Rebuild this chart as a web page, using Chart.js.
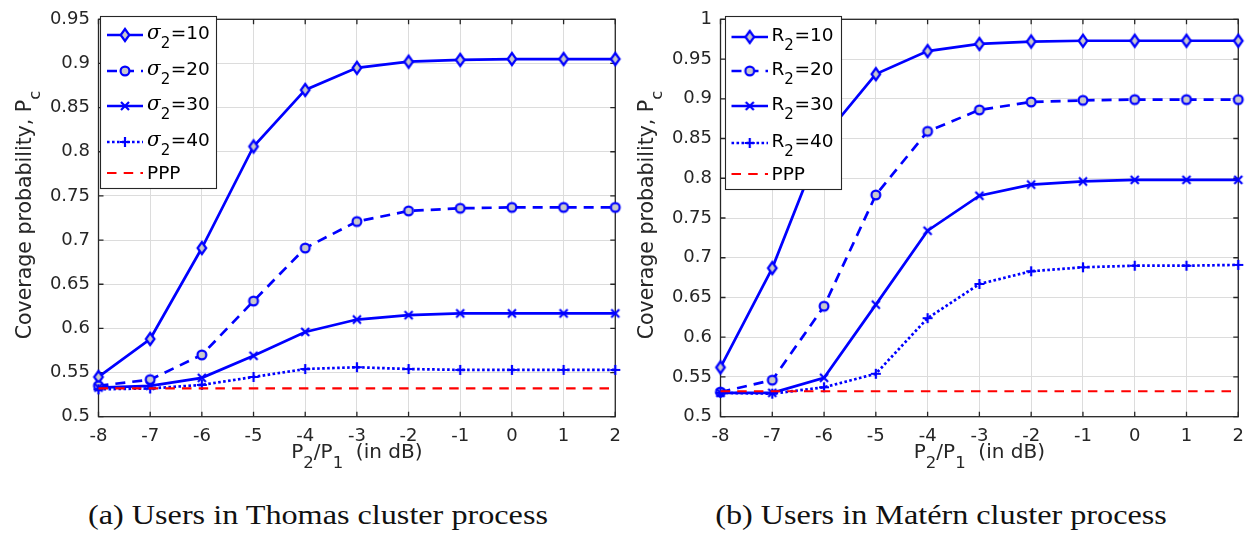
<!DOCTYPE html>
<html>
<head>
<meta charset="utf-8">
<script src="https://cdn.jsdelivr.net/npm/chart.js@4.4.1/dist/chart.umd.min.js"></script>
<style>
  html, body { margin: 0; padding: 0; background: #fff; }
  #wrap { position: relative; width: 1253px; height: 533px; overflow: hidden; }
  canvas { position: absolute; top: 0; }
  #thomas { left: 0; }
  #matern { left: 630px; }
  .cap { position: absolute; top: 499px; font-family: 'Liberation Serif', serif; font-size: 28px;
         color: #111; white-space: nowrap; transform: translateX(-50%) scaleX(1.15); }
</style>
</head>
<body>
<div id="wrap">
  <canvas id="thomas" width="630" height="470"></canvas>
  <canvas id="matern" width="623" height="470"></canvas>
  <div class="cap" style="left:318px">(a) Users in Thomas cluster process</div>
  <div class="cap" style="left:941px">(b) Users in Matérn cluster process</div>
</div>
<script>
// Power ratio P2/P1 in dB (shared x axis)
const powerRatioDb = [-8, -7, -6, -5, -4, -3, -2, -1, 0, 1, 2];

// Coverage probability, users in a Thomas cluster process
const thomasSigma10 = [0.545, 0.588, 0.691, 0.806, 0.870, 0.895, 0.902, 0.904, 0.905, 0.905, 0.905];
const thomasSigma20 = [0.535, 0.542, 0.570, 0.631, 0.691, 0.721, 0.733, 0.736, 0.737, 0.737, 0.737];
const thomasSigma30 = [0.533, 0.535, 0.544, 0.569, 0.596, 0.610, 0.615, 0.617, 0.617, 0.617, 0.617];
const thomasSigma40 = [0.531, 0.532, 0.536, 0.545, 0.554, 0.556, 0.554, 0.553, 0.553, 0.553, 0.553];
const thomasPPP = 0.532;

// Coverage probability, users in a Matérn cluster process
const maternR10 = [0.562, 0.687, 0.852, 0.931, 0.960, 0.969, 0.972, 0.973, 0.973, 0.973, 0.973];
const maternR20 = [0.531, 0.546, 0.639, 0.779, 0.859, 0.886, 0.896, 0.898, 0.899, 0.899, 0.899];
const maternR30 = [0.530, 0.530, 0.549, 0.641, 0.734, 0.778, 0.792, 0.796, 0.798, 0.798, 0.798];
const maternR40 = [0.530, 0.529, 0.537, 0.554, 0.624, 0.667, 0.683, 0.688, 0.690, 0.690, 0.691];
const maternPPP = 0.532;

// Legend parameter values
const sigmaValues = [10, 20, 30, 40];
const radiusValues = [10, 20, 30, 40];

// Y tick labels
const thomasYTicks = [0.5, 0.55, 0.6, 0.65, 0.7, 0.75, 0.8, 0.85, 0.9, 0.95];
const maternYTicks = [0.5, 0.55, 0.6, 0.65, 0.7, 0.75, 0.8, 0.85, 0.9, 0.95, 1];

const BLUE = '#0000ff';
const RED = '#ff0000';
const INK = '#262626';
const GRID = '#dcdcdc';
const MARK_FILL = '#c8c8cc';
const SANS = "'DejaVu Sans', sans-serif";

// Marker glyphs as small canvases (used both on the plot and in the legend)
function markerCanvas(kind) {
  const s = 18, m = s / 2;
  const c = document.createElement('canvas');
  c.width = c.height = s;
  const g = c.getContext('2d');
  g.strokeStyle = BLUE; g.fillStyle = MARK_FILL; g.lineWidth = 2.2;
  g.beginPath();
  if (kind === 'diamond') {
    g.moveTo(m, m - 6); g.lineTo(m + 4.3, m); g.lineTo(m, m + 6); g.lineTo(m - 4.3, m); g.closePath();
    g.fill(); g.stroke();
  } else if (kind === 'circle') {
    g.arc(m, m, 4.4, 0, Math.PI * 2); g.fill(); g.stroke();
  } else if (kind === 'x') {
    g.moveTo(m - 4, m - 4); g.lineTo(m + 4, m + 4); g.moveTo(m + 4, m - 4); g.lineTo(m - 4, m + 4); g.stroke();
  } else if (kind === 'plus') {
    g.moveTo(m - 5, m); g.lineTo(m + 5, m); g.moveTo(m, m - 5); g.lineTo(m, m + 5); g.stroke();
  }
  return c;
}
const MARKERS = { diamond: markerCanvas('diamond'), circle: markerCanvas('circle'),
                  x: markerCanvas('x'), plus: markerCanvas('plus') };

const SERIES_STYLE = [
  { marker: 'diamond', dash: [] },
  { marker: 'circle', dash: [10, 7] },
  { marker: 'x', dash: [] },
  { marker: 'plus', dash: [2.6, 2.4] }
];
const PPP_DASH = [9.5, 7.2];
const LINE_W = 2.7;

// Draw a run of text pieces (for subscripts) starting at x, on baseline y
function richText(ctx, parts, x, y, align) {
  let total = 0;
  parts.forEach(p => { ctx.font = p.font; p.w = ctx.measureText(p.t).width; total += p.w + (p.gap || 0); });
  let cx = align === 'center' ? x - total / 2 : x;
  parts.forEach(p => {
    ctx.font = p.font;
    ctx.fillText(p.t, cx, y + (p.dy || 0));
    cx += p.w + (p.gap || 0);
  });
}

// Box frame with inward tick marks on all four sides
const framePlugin = {
  id: 'frame',
  beforeDatasetsDraw(chart) {
    const { ctx, chartArea: a, scales: { x, y } } = chart;
    ctx.save();
    ctx.strokeStyle = INK;
    ctx.lineWidth = 1.3;
    ctx.beginPath();
    x.ticks.forEach(t => {
      const px = x.getPixelForValue(t.value);
      ctx.moveTo(px, a.bottom); ctx.lineTo(px, a.bottom - 5);
      ctx.moveTo(px, a.top); ctx.lineTo(px, a.top + 5);
    });
    y.ticks.forEach(t => {
      const py = y.getPixelForValue(t.value);
      ctx.moveTo(a.left, py); ctx.lineTo(a.left + 5, py);
      ctx.moveTo(a.right, py); ctx.lineTo(a.right - 5, py);
    });
    ctx.stroke();
    ctx.strokeRect(a.left, a.top, a.right - a.left, a.bottom - a.top);
    ctx.restore();
  }
};

// Legend box drawn inside the axes, top-left
const legendPlugin = {
  id: 'boxLegend',
  afterDatasetsDraw(chart, args, opts) {
    const { ctx } = chart;
    const [bx, by, bw, bh] = opts.box;
    ctx.save();
    ctx.fillStyle = '#fff';
    ctx.fillRect(bx, by, bw, bh);
    ctx.strokeStyle = INK; ctx.lineWidth = 1.1;
    ctx.strokeRect(bx + 0.5, by + 0.5, bw, bh);
    opts.items.forEach((it, i) => {
      const ry = opts.rows[i];
      ctx.strokeStyle = it.color; ctx.lineWidth = it.width;
      ctx.setLineDash(it.dash);
      ctx.beginPath(); ctx.moveTo(opts.sample[0], ry); ctx.lineTo(opts.sample[1], ry); ctx.stroke();
      ctx.setLineDash([]);
      if (it.marker) {
        const m = MARKERS[it.marker];
        ctx.drawImage(m, (opts.sample[0] + opts.sample[1]) / 2 - m.width / 2, ry - m.height / 2);
      }
      ctx.fillStyle = '#000';
      ctx.textBaseline = 'alphabetic';
      richText(ctx, it.parts, opts.textX, ry + it.base, 'left');
    });
    ctx.restore();
  }
};

// Axis titles with subscripts
const titlesPlugin = {
  id: 'axisTitles',
  afterDraw(chart, args, opts) {
    const { ctx, chartArea: a } = chart;
    ctx.save();
    ctx.fillStyle = INK;
    ctx.textBaseline = 'alphabetic';
    const big = '20px ' + SANS, sub = '16.5px ' + SANS;
    richText(ctx, [
      { t: 'P', font: big }, { t: '2', font: sub, dy: 10 },
      { t: '/P', font: big }, { t: '1', font: sub, dy: 10 },
      { t: '  (in dB)', font: big }
    ], (a.left + a.right) / 2, 458, 'center');
    ctx.translate(opts.yTitleX, (a.top + a.bottom) / 2 - 3);
    ctx.rotate(-Math.PI / 2);
    richText(ctx, [
      { t: 'Coverage probability, P', font: '20.5px ' + SANS }, { t: 'c', font: sub, dy: 9, gap: 0 }
    ], 0, 0, 'center');
    ctx.restore();
  }
};

function lineDataset(values, style, order) {
  return {
    data: values.map((v, i) => ({ x: powerRatioDb[i], y: v })),
    borderColor: BLUE, borderWidth: LINE_W, borderDash: style.dash,
    pointStyle: MARKERS[style.marker], pointRadius: 6,
    tension: 0, fill: false, clip: false, order
  };
}

function buildChart(canvasId, cfg) {
  const datasets = cfg.series.map((vals, i) => lineDataset(vals, SERIES_STYLE[i], 5 - i));
  datasets.push({
    data: powerRatioDb.map(x => ({ x, y: cfg.ppp })),
    borderColor: RED, borderWidth: 2.2, borderDash: PPP_DASH,
    pointRadius: 0, tension: 0, fill: false, clip: false, order: 0
  });

  const legendItems = cfg.legendValues.map((v, i) => ({
    color: BLUE, width: LINE_W, dash: SERIES_STYLE[i].dash, marker: SERIES_STYLE[i].marker,
    base: 3.5,
    parts: [
      { t: cfg.symbol, font: cfg.symbolFont },
      { t: '2', font: '15px ' + SANS, dy: 9.5, gap: 0.5 },
      { t: '=' + v, font: '18.5px ' + SANS }
    ]
  }));
  legendItems.push({
    color: RED, width: 2.2, dash: PPP_DASH, marker: null, base: 6,
    parts: [{ t: 'PPP', font: '18.5px ' + SANS }]
  });

  const tickFont = { family: SANS, size: 18 };
  return new Chart(document.getElementById(canvasId), {
    type: 'line',
    data: { datasets },
    options: {
      responsive: false, animation: false, events: [],
      layout: { padding: { top: 14.7, right: cfg.rightPad, bottom: 0, left: 0 } },
      scales: {
        x: {
          type: 'linear', min: -8, max: 2,
          afterBuildTicks: s => { s.ticks = powerRatioDb.map(v => ({ value: v })); },
          afterFit: s => { s.height = 470 - 416.7; },
          grid: { color: GRID, lineWidth: 1, drawTicks: false },
          border: { display: false },
          ticks: { color: INK, font: tickFont, padding: 9, maxRotation: 0, autoSkip: false,
                   callback: v => String(v) }
        },
        y: {
          type: 'linear', min: 0.5, max: cfg.yTicks[cfg.yTicks.length - 1],
          afterBuildTicks: s => { s.ticks = cfg.yTicks.map(v => ({ value: v })); },
          afterFit: s => { s.width = cfg.plotLeft; },
          grid: { color: GRID, lineWidth: 1, drawTicks: false },
          border: { display: false },
          ticks: { color: INK, font: tickFont, padding: 8.5, autoSkip: false,
                   callback: v => String(v) }
        }
      },
      plugins: {
        legend: { display: false },
        tooltip: { enabled: false },
        boxLegend: { box: cfg.legendBox, sample: cfg.legendSample, textX: cfg.legendTextX,
                     rows: cfg.legendRows, items: legendItems },
        axisTitles: { yTitleX: cfg.yTitleX }
      }
    },
    plugins: [framePlugin, legendPlugin, titlesPlugin]
  });
}

buildChart('thomas', {
  series: [thomasSigma10, thomasSigma20, thomasSigma30, thomasSigma40],
  ppp: thomasPPP,
  yTicks: thomasYTicks,
  plotLeft: 98.5, rightPad: 11.5,
  legendValues: sigmaValues,
  symbol: 'σ', symbolFont: "italic 20px 'DejaVu Serif', serif",
  legendBox: [100, 16, 116, 172], legendSample: [107, 143], legendTextX: 147,
  legendRows: [35, 71, 106, 142, 173],
  yTitleX: 31
});

buildChart('matern', {
  series: [maternR10, maternR20, maternR30, maternR40],
  ppp: maternPPP,
  yTicks: maternYTicks,
  plotLeft: 90.5, rightPad: 12.5,
  legendValues: radiusValues,
  symbol: 'R', symbolFont: '18.5px ' + SANS,
  legendBox: [95, 16, 116, 173], legendSample: [101.5, 138], legendTextX: 141.5,
  legendRows: [37, 71, 106, 143, 174],
  yTitleX: 23
});
</script>
</body>
</html>
